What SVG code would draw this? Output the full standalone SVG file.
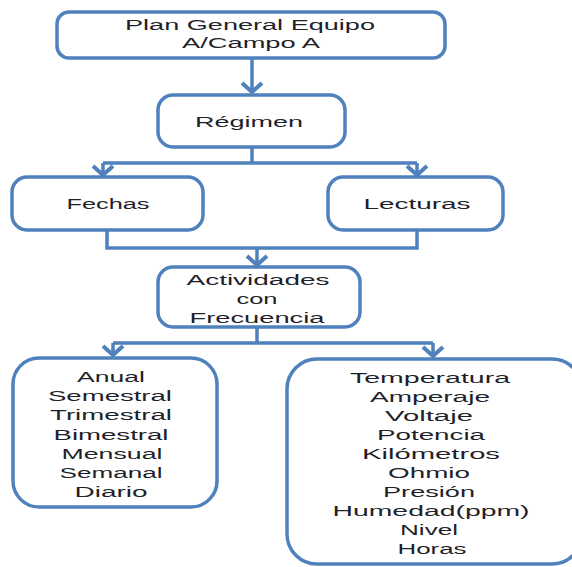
<svg xmlns="http://www.w3.org/2000/svg" width="572" height="567" viewBox="0 0 572 567">
  <defs>
    <style>
      .box { fill: #ffffff; stroke: #4f81bd; stroke-width: 3.5; }
      .wire { fill: none; stroke: #4f81bd; stroke-width: 3.5; }
      .lbl { font-family: "Liberation Sans", Arial, sans-serif; font-size: 14px; fill: #231f2a; text-anchor: middle; }
    </style>
    <marker id="head" markerUnits="userSpaceOnUse" markerWidth="24" markerHeight="24" viewBox="-12 -12 24 24" refX="0" refY="0" orient="auto" overflow="visible">
      <path d="M-10,-10 L-1,0 L-10,10" fill="none" stroke="#4f81bd" stroke-width="4"/>
    </marker>
  </defs>
  <rect width="572" height="567" fill="#ffffff"/>

  <!-- connectors -->
  <g id="connectors">
    <path class="wire" d="M252,58 V93" marker-end="url(#head)"/>
    <path class="wire" d="M252,147 V163"/>
    <path class="wire" d="M103,163 H417"/>
    <path class="wire" d="M103,163 V176" marker-end="url(#head)"/>
    <path class="wire" d="M417,163 V176" marker-end="url(#head)"/>
    <path class="wire" d="M107,230 V248 H417 V230"/>
    <path class="wire" d="M257,248 V266" marker-end="url(#head)"/>
    <path class="wire" d="M257,327 V343"/>
    <path class="wire" d="M113,343 H433"/>
    <path class="wire" d="M113,343 V356" marker-end="url(#head)"/>
    <path class="wire" d="M433,343 V357" marker-end="url(#head)"/>
  </g>

  <!-- nodes -->
  <g id="plan-general">
    <rect class="box" x="57" y="12" width="388" height="46" rx="12"/>
    <text class="lbl" x="250" y="30" textLength="250" lengthAdjust="spacingAndGlyphs">Plan General Equipo</text>
    <text class="lbl" x="251" y="48" textLength="138" lengthAdjust="spacingAndGlyphs">A/Campo A</text>
  </g>

  <g id="regimen">
    <rect class="box" x="158" y="95" width="187" height="52" rx="15"/>
    <text class="lbl" x="249" y="127" textLength="108" lengthAdjust="spacingAndGlyphs">Régimen</text>
  </g>

  <g id="fechas">
    <rect class="box" x="12" y="177" width="191" height="53" rx="15"/>
    <text class="lbl" x="108" y="209" textLength="83" lengthAdjust="spacingAndGlyphs">Fechas</text>
  </g>

  <g id="lecturas">
    <rect class="box" x="328" y="177" width="175" height="53" rx="15"/>
    <text class="lbl" x="417" y="209" textLength="107" lengthAdjust="spacingAndGlyphs">Lecturas</text>
  </g>

  <g id="actividades">
    <rect class="box" x="158" y="267" width="202" height="60" rx="15"/>
    <text class="lbl" x="258" y="285" textLength="143" lengthAdjust="spacingAndGlyphs">Actividades</text>
    <text class="lbl" x="257" y="304" textLength="41" lengthAdjust="spacingAndGlyphs">con</text>
    <text class="lbl" x="257" y="323" textLength="135" lengthAdjust="spacingAndGlyphs">Frecuencia</text>
  </g>

  <g id="frecuencias">
    <rect class="box" x="13" y="358" width="204" height="149" rx="26"/>
    <text class="lbl" x="111" y="382" textLength="68" lengthAdjust="spacingAndGlyphs">Anual</text>
    <text class="lbl" x="110" y="401" textLength="124" lengthAdjust="spacingAndGlyphs">Semestral</text>
    <text class="lbl" x="111" y="420" textLength="122" lengthAdjust="spacingAndGlyphs">Trimestral</text>
    <text class="lbl" x="111" y="440" textLength="115" lengthAdjust="spacingAndGlyphs">Bimestral</text>
    <text class="lbl" x="112" y="459" textLength="101" lengthAdjust="spacingAndGlyphs">Mensual</text>
    <text class="lbl" x="111" y="478" textLength="103" lengthAdjust="spacingAndGlyphs">Semanal</text>
    <text class="lbl" x="111" y="497" textLength="73" lengthAdjust="spacingAndGlyphs">Diario</text>
  </g>

  <g id="magnitudes">
    <rect class="box" x="287" y="359" width="295" height="205" rx="30"/>
    <text class="lbl" x="430" y="383" textLength="160" lengthAdjust="spacingAndGlyphs">Temperatura</text>
    <text class="lbl" x="430" y="402" textLength="120" lengthAdjust="spacingAndGlyphs">Amperaje</text>
    <text class="lbl" x="429" y="421" textLength="88" lengthAdjust="spacingAndGlyphs">Voltaje</text>
    <text class="lbl" x="431" y="440" textLength="108" lengthAdjust="spacingAndGlyphs">Potencia</text>
    <text class="lbl" x="431" y="459" textLength="138" lengthAdjust="spacingAndGlyphs">Kilómetros</text>
    <text class="lbl" x="429" y="478" textLength="82" lengthAdjust="spacingAndGlyphs">Ohmio</text>
    <text class="lbl" x="429" y="497" textLength="92" lengthAdjust="spacingAndGlyphs">Presión</text>
    <text class="lbl" x="431" y="516" textLength="197" lengthAdjust="spacingAndGlyphs">Humedad(ppm)</text>
    <text class="lbl" x="429" y="535" textLength="58" lengthAdjust="spacingAndGlyphs">Nivel</text>
    <text class="lbl" x="432" y="554" textLength="69" lengthAdjust="spacingAndGlyphs">Horas</text>
  </g>
</svg>
